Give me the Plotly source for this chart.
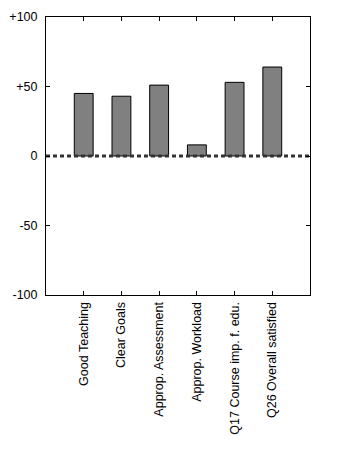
import plotly.graph_objects as go

categories = ["Good Teaching", "Clear Goals", "Approp. Assessment", "Approp. Workload",
              "Q17 Course imp. f. edu.", "Q26 Overall satisfied"]
values = [45, 43, 51, 8, 53, 64]
positions = [1, 2, 3, 4, 5, 6]
ytick_vals = [-100, -50, 0, 50, 100]
ytick_text = ["-100", "-50", "0", "+50", "+100"]

fig = go.Figure()
fig.add_trace(go.Bar(
    x=positions, y=values, width=0.5,
    marker=dict(color="#808080", line=dict(color="black", width=1)),
    showlegend=False,
))
fig.add_trace(go.Scatter(
    x=[0, 7], y=[0, 0], mode="lines",
    line=dict(color="#333333", width=3, dash="4px,3px"),
    showlegend=False, hoverinfo="skip",
))

axis_font = dict(family="Liberation Sans, Arial, sans-serif", size=12.5, color="black")
fig.update_layout(
    width=354, height=472,
    margin=dict(l=46, r=44, t=17, b=177),
    plot_bgcolor="white", paper_bgcolor="white",
    font=axis_font,
    xaxis=dict(
        range=[0, 7], tickmode="array", tickvals=positions, ticktext=categories,
        tickangle=-90, ticks="inside", ticklen=4, tickcolor="black",
        showline=True, linecolor="black", linewidth=1, mirror="allticks",
        showgrid=False, zeroline=False, tickfont=axis_font, ticklabelstandoff=1,
        automargin=False,
    ),
    yaxis=dict(
        range=[-100, 100], tickmode="array", tickvals=ytick_vals, ticktext=ytick_text,
        ticks="inside", ticklen=4, tickcolor="black",
        showline=True, linecolor="black", linewidth=1, mirror="allticks",
        showgrid=False, zeroline=False, tickfont=axis_font, ticklabelstandoff=5,
        automargin=False,
    ),
)
fig.write_html("out.html")
